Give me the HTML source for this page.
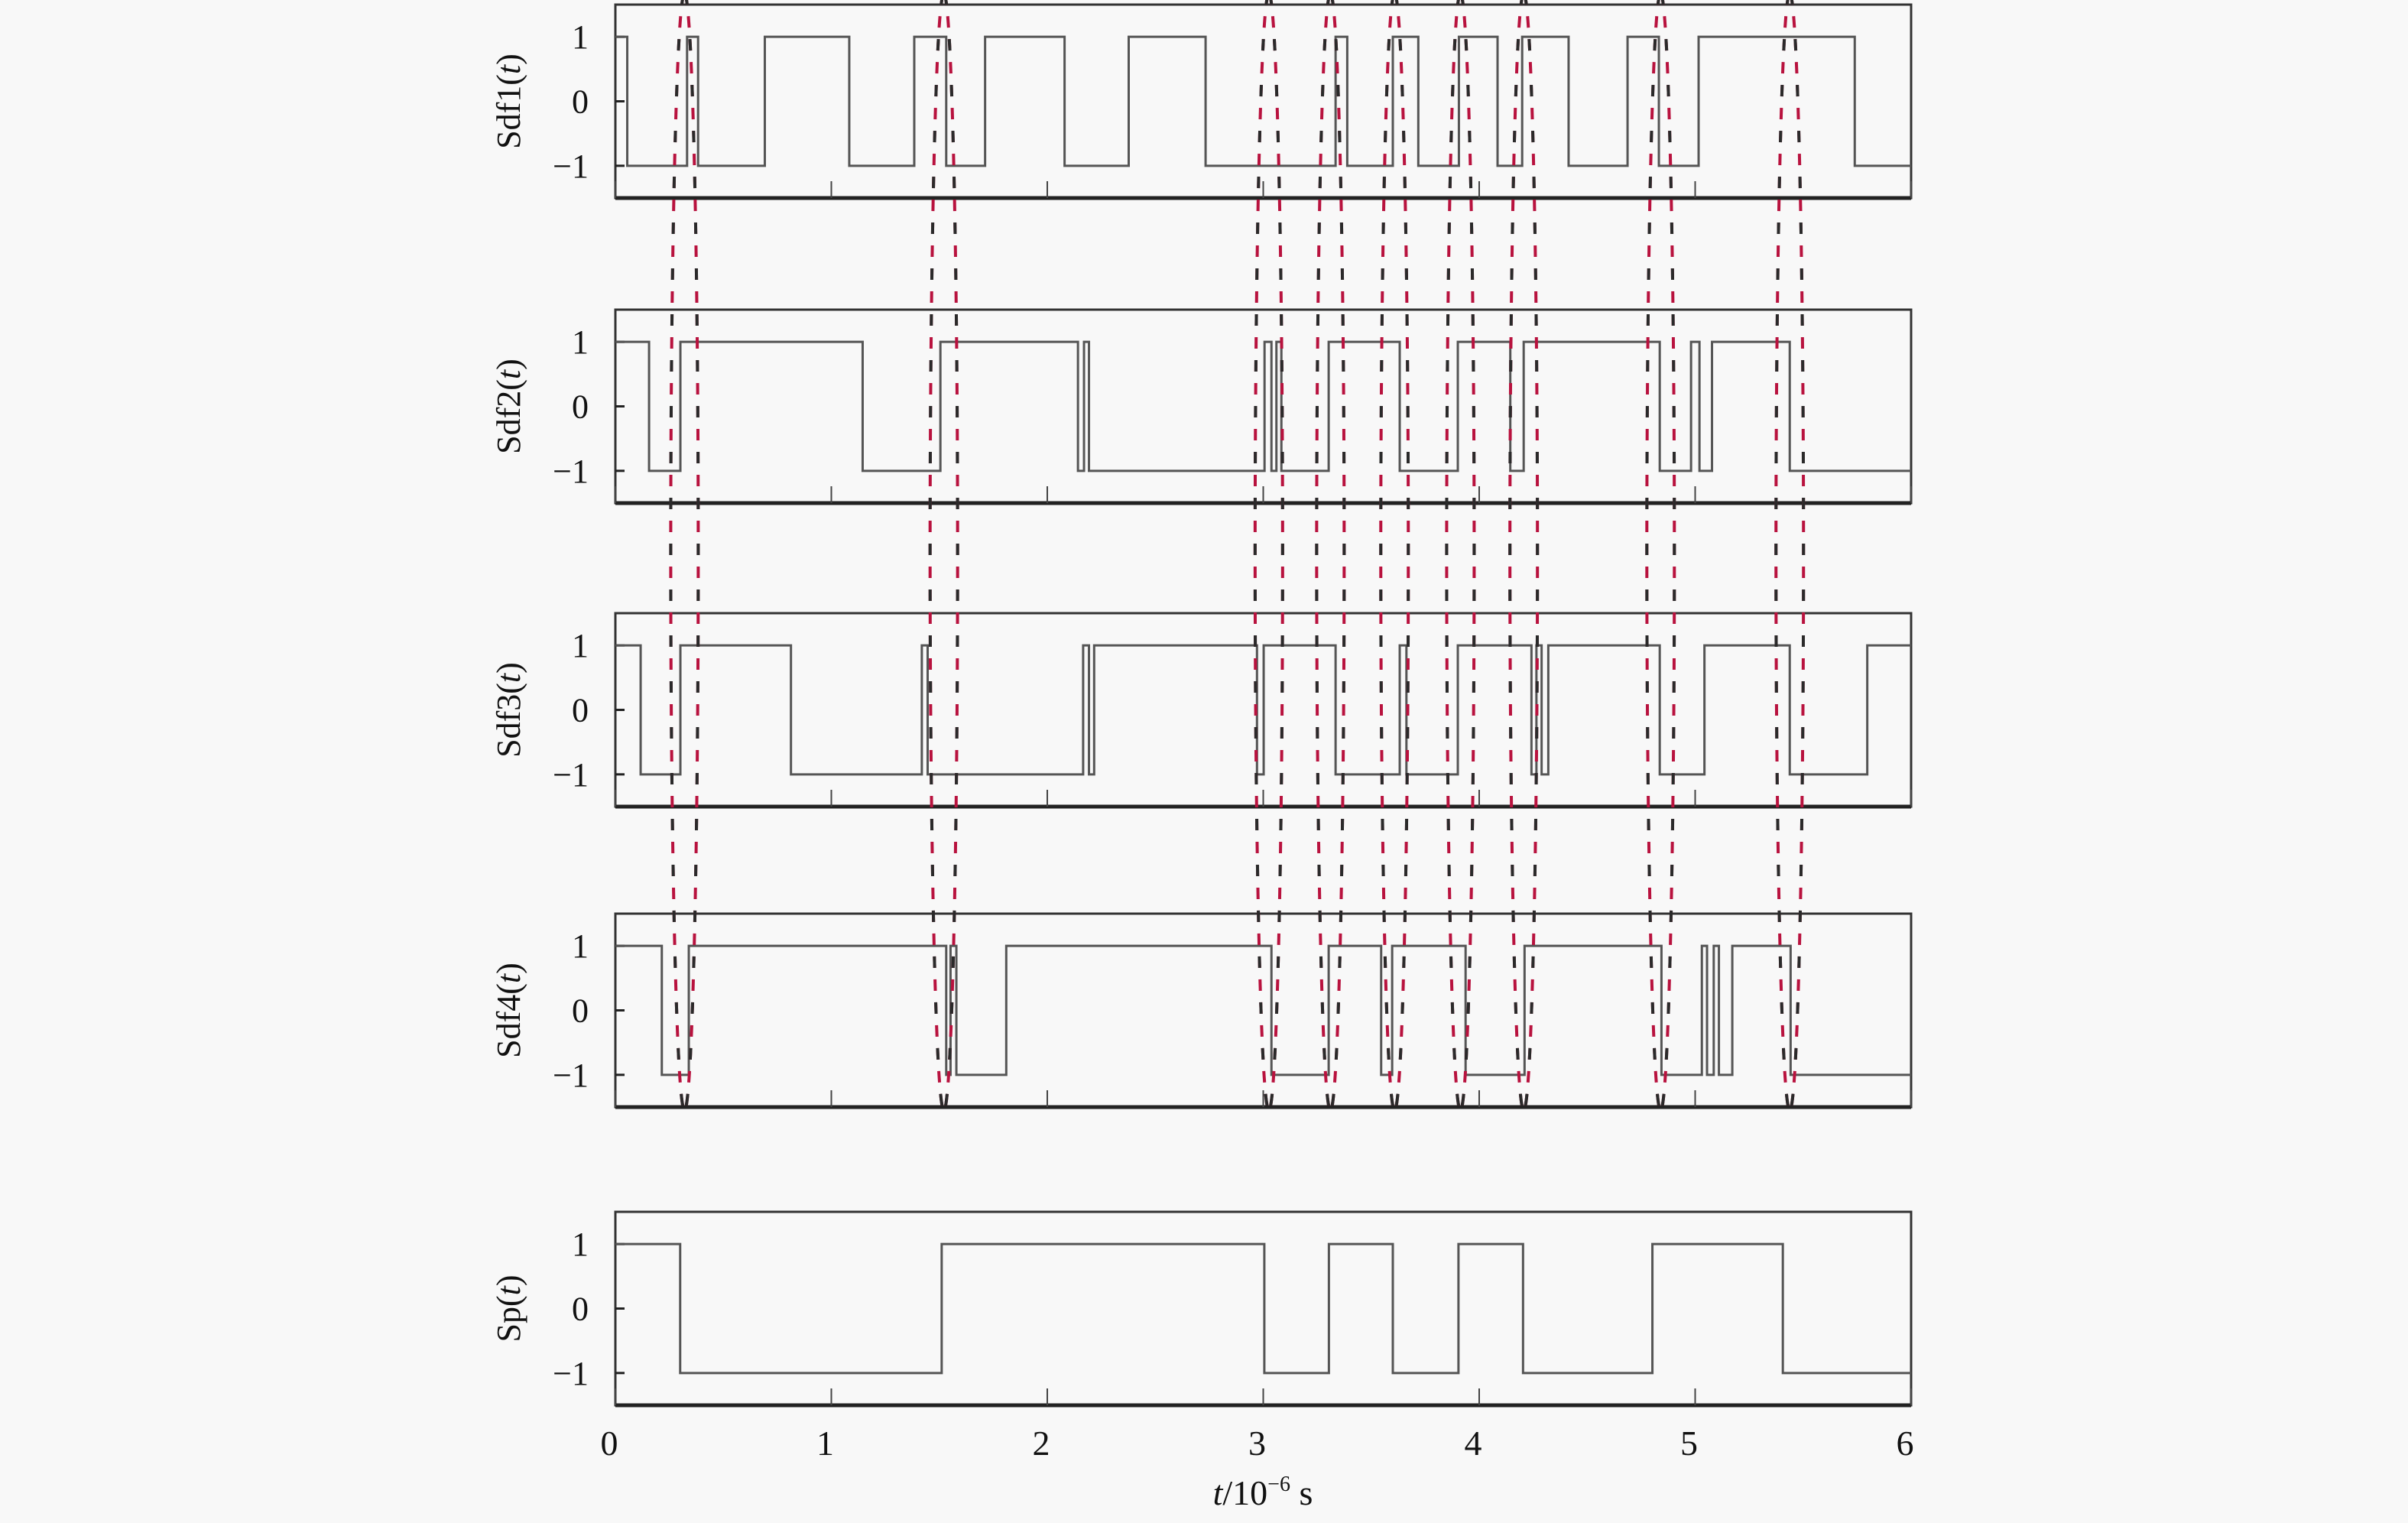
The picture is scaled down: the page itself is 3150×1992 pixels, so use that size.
<!DOCTYPE html>
<html><head><meta charset="utf-8">
<style>
html,body{margin:0;padding:0;background:#f8f8f8;}
svg{display:block;}
text{font-family:"Liberation Serif",serif;fill:#111;}
</style></head>
<body>
<svg id="chart" width="3150" height="1992" viewBox="0 0 3150 1992" xmlns="http://www.w3.org/2000/svg">
<rect x="0" y="0" width="3150" height="1992" fill="#f8f8f8"/>
<g id="panels"></g>
<g id="ellipses"></g>
<g id="xticklabels"></g>
<text x="1652" y="1968" text-anchor="middle" font-size="46"><tspan font-style="italic">t</tspan>/10<tspan font-size="28" dy="-18">−6</tspan><tspan dy="18"> s</tspan></text>
</svg>
<script>
// ---- data ----
const panelNames = ["Sdf1", "Sdf2", "Sdf3", "Sdf4", "Sp"];
const initValues = [1, 1, 1, 1, 1];
const sdf1Edges = [0.055,0.332,0.383,0.692,1.083,1.384,1.532,1.712,2.080,2.377,2.733,3.335,3.389,3.600,3.718,3.906,4.085,4.199,4.414,4.687,4.832,5.016,5.739];
const sdf2Edges = [0.156,0.301,1.145,1.505,2.142,2.170,2.193,3.006,3.038,3.061,3.084,3.303,3.632,3.901,4.144,4.206,4.836,4.981,5.020,5.078,5.438];
const sdf3Edges = [0.117,0.301,0.813,1.419,1.446,2.166,2.193,2.217,2.971,3.002,3.335,3.632,3.663,3.901,4.242,4.265,4.289,4.320,4.836,5.043,5.438,5.797];
const sdf4Edges = [0.215,0.340,1.532,1.552,1.579,1.810,3.038,3.303,3.546,3.597,3.937,4.210,4.844,5.031,5.055,5.086,5.110,5.172,5.442];
const spEdges = [0.300,1.511,3.005,3.304,3.600,3.904,4.203,4.802,5.406];
const ellipseCenters = [0.320,1.521,3.026,3.311,3.608,3.913,4.206,4.840,5.438];
const xTicks = [0,1,2,3,4,5,6];
const xTickLabels = ["0","1","2","3","4","5","6"];
const yTicks = [1,0,-1];
const yTickLabels = ["1","0","−1"];

// ---- layout ----
const NS = "http://www.w3.org/2000/svg";
const X0 = 805, X1 = 2500, T0 = 0, T1 = 6;
const panelTops = [6, 405, 802, 1195, 1585];
const PH = 253, YMIN = -1.5, YMAX = 1.5;
const allEdges = [sdf1Edges, sdf2Edges, sdf3Edges, sdf4Edges, spEdges];
function xs(t){ return X0 + (t - T0) / (T1 - T0) * (X1 - X0); }
function ys(v, top){ return top + (YMAX - v) / (YMAX - YMIN) * PH; }
function mk(tag, attrs, parent){
  const e = document.createElementNS(NS, tag);
  for (const k in attrs) e.setAttribute(k, attrs[k]);
  parent.appendChild(e);
  return e;
}
const gPanels = document.getElementById("panels");
panelNames.forEach((name, i) => {
  const top = panelTops[i];
  const g = mk("g", {}, gPanels);
  
  
  const fr = mk("rect", {x: X0, y: top, width: X1 - X0, height: PH, fill: "none", stroke: "#333", "stroke-width": 3}, g);
  
  
  const bl = mk("line", {x1: X0, x2: X1, y1: top + PH, y2: top + PH, stroke: "#222", "stroke-width": 5}, g);
  
  
  xTicks.forEach(t => {
    const tk = mk("line", {x1: xs(t), x2: xs(t), y1: top + PH, y2: top + PH - 22, stroke: "#444", "stroke-width": 2}, g);
    
    
  });
  yTicks.forEach((v, j) => {
    const tk = mk("line", {x1: X0, x2: X0 + 12, y1: ys(v, top), y2: ys(v, top), stroke: "#222", "stroke-width": 3}, g);
    
    
    const lb = mk("text", {x: 770, y: ys(v, top) + 15, "text-anchor": "end", "font-size": 44}, g);
    lb.textContent = yTickLabels[j];
    
    
  });
  const cy = top + PH / 2;
  const yt = mk("text", {x: 0, y: 0, "text-anchor": "middle", "font-size": 44, transform: "translate(680," + cy + ") rotate(-90)"}, g);
  
  
  yt.appendChild(document.createTextNode(name + "("));
  const it = mk("tspan", {"font-style": "italic"}, yt);
  it.textContent = "t";
  yt.appendChild(document.createTextNode(")"));
  const edges = allEdges[i];
  let v = initValues[i];
  let d = "M" + xs(T0) + "," + ys(v, top);
  edges.forEach(t => {
    d += " L" + xs(t) + "," + ys(v, top);
    v = -v;
    d += " L" + xs(t) + "," + ys(v, top);
  });
  d += " L" + xs(T1) + "," + ys(v, top);
  const p = mk("path", {d: d, fill: "none", stroke: "#555", "stroke-width": 3}, g);
  
  
});
const gx = document.getElementById("xticklabels");
xTicks.forEach((t, j) => {
  const lb = mk("text", {x: xs(t) - 8, y: 1903, "text-anchor": "middle", "font-size": 46}, gx);
  lb.textContent = xTickLabels[j];
  
  
});
const ge = document.getElementById("ellipses");
const ERX = 18, ERY = 730, ECY = 722;
ellipseCenters.forEach(t => {
  const cx = xs(t);
  // build each side as its own vertical path so dash colours interleave on both sides
  [-1, 1].forEach(side => {
    let d = "";
    for (let k = 0; k <= 120; k++) {
      const a = -Math.PI / 2 + Math.PI * k / 120;
      const px = cx + side * ERX * Math.cos(a);
      const py = ECY + ERY * Math.sin(a);
      d += (k === 0 ? "M" : " L") + px.toFixed(2) + "," + py.toFixed(2);
    }
    const e1 = mk("path", {d: d, fill: "none", stroke: "#b8123e", "stroke-width": 4, "stroke-dasharray": "15 15"}, ge);
    
    
    const e2 = mk("path", {d: d, fill: "none", stroke: "#2a2a2a", "stroke-width": 4, "stroke-dasharray": "15 45"}, ge);
    
    
  });
});
</script>
</body></html>
